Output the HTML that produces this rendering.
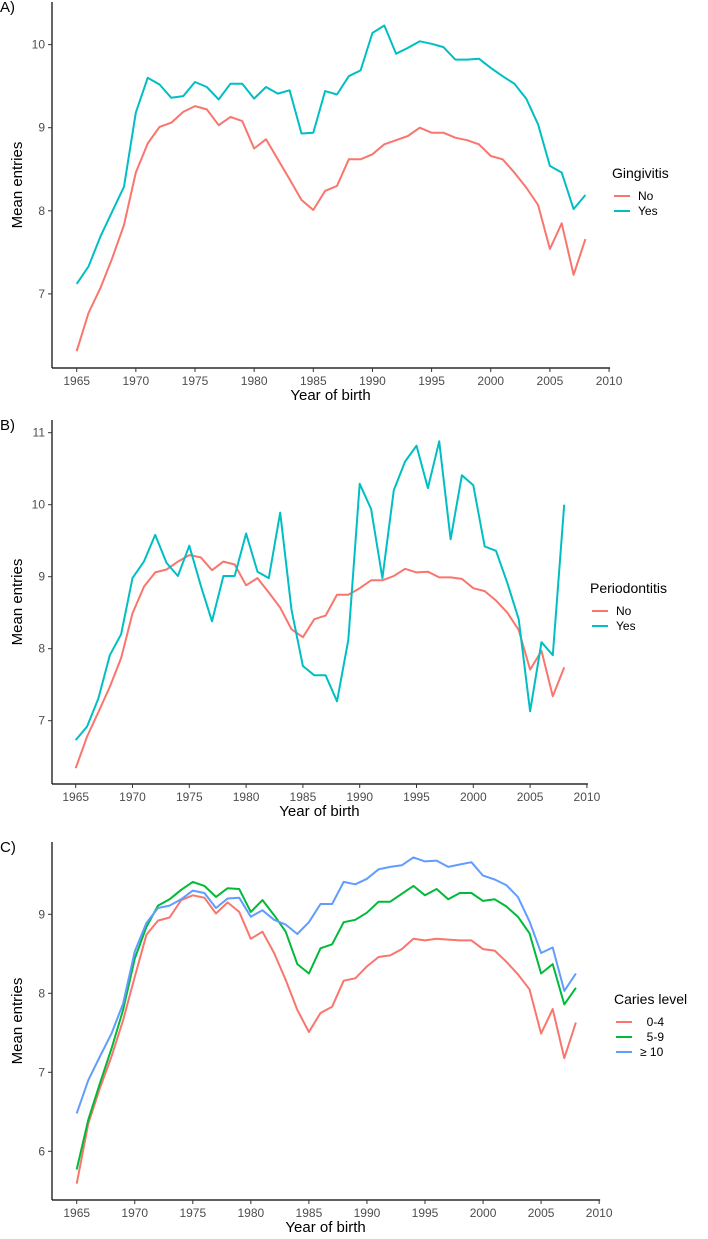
<!DOCTYPE html>
<html><head><meta charset="utf-8"><style>
body{margin:0;background:#fff;}
svg{display:block;font-family:"Liberation Sans",Arial,sans-serif;}
text{white-space:pre;}
</style></head><body>
<svg id="chart" width="708" height="1239" viewBox="0 0 708 1239" xmlns="http://www.w3.org/2000/svg"></svg>
<script>
const years = [];
for (let y = 1965; y <= 2008; y++) years.push(y);
const xTicks = [1965,1970,1975,1980,1985,1990,1995,2000,2005,2010];

const gingNo = [6.31,6.77,7.07,7.43,7.83,8.46,8.81,9.01,9.06,9.19,9.26,9.22,9.03,9.13,9.08,8.75,8.86,8.62,8.38,8.13,8.01,8.24,8.30,8.62,8.62,8.68,8.80,8.85,8.90,9.00,8.94,8.94,8.88,8.85,8.80,8.66,8.62,8.46,8.28,8.07,7.54,7.85,7.23,7.66];
const gingYes = [7.12,7.33,7.69,7.99,8.29,9.18,9.60,9.52,9.36,9.38,9.55,9.49,9.34,9.53,9.53,9.35,9.49,9.41,9.45,8.93,8.94,9.44,9.40,9.62,9.69,10.14,10.23,9.89,9.96,10.04,10.01,9.97,9.82,9.82,9.83,9.72,9.62,9.53,9.35,9.04,8.54,8.46,8.02,8.19];
const perioNo = [6.34,6.78,7.12,7.47,7.87,8.49,8.86,9.06,9.10,9.21,9.30,9.27,9.09,9.21,9.17,8.88,8.98,8.78,8.57,8.27,8.16,8.41,8.46,8.75,8.75,8.84,8.95,8.95,9.01,9.11,9.06,9.07,8.99,8.99,8.97,8.84,8.80,8.67,8.50,8.26,7.71,7.97,7.34,7.74];
const perioYes = [6.73,6.92,7.31,7.91,8.20,8.98,9.21,9.58,9.19,9.01,9.43,8.88,8.38,9.01,9.01,9.60,9.07,8.98,9.89,8.54,7.76,7.63,7.63,7.27,8.12,10.29,9.94,8.98,10.20,10.60,10.82,10.23,10.88,9.52,10.41,10.27,9.42,9.36,8.91,8.41,7.13,8.09,7.91,10.00];
const caries04 = [5.59,6.35,6.80,7.20,7.66,8.21,8.74,8.92,8.96,9.18,9.24,9.21,9.01,9.15,9.03,8.69,8.78,8.51,8.17,7.79,7.51,7.75,7.83,8.16,8.19,8.34,8.46,8.48,8.56,8.69,8.67,8.69,8.68,8.67,8.67,8.56,8.54,8.40,8.24,8.05,7.49,7.80,7.18,7.63];
const caries59 = [5.77,6.40,6.86,7.30,7.79,8.44,8.84,9.11,9.19,9.31,9.41,9.36,9.22,9.33,9.32,9.03,9.18,8.99,8.78,8.37,8.25,8.57,8.62,8.90,8.93,9.02,9.16,9.16,9.26,9.36,9.24,9.32,9.19,9.27,9.27,9.17,9.19,9.10,8.97,8.76,8.25,8.37,7.86,8.07];
const caries10 = [6.48,6.90,7.20,7.49,7.87,8.53,8.89,9.08,9.11,9.19,9.30,9.27,9.08,9.20,9.21,8.97,9.05,8.93,8.87,8.75,8.90,9.13,9.13,9.41,9.38,9.45,9.57,9.60,9.62,9.72,9.67,9.68,9.60,9.63,9.66,9.49,9.44,9.37,9.22,8.91,8.51,8.58,8.03,8.25];

const yTicksA = [7,8,9,10];
const yTicksB = [7,8,9,10,11];
const yTicksC = [6,7,8,9];

const NS = "http://www.w3.org/2000/svg";
const svg = document.getElementById('chart');
function mk(tag, attrs, parent){
  const e = document.createElementNS(NS, tag);
  for (const k in attrs) e.setAttribute(k, attrs[k]);
  (parent||svg).appendChild(e);
  return e;
}

function panel(cfg){
  const g = mk('g', {});
  
  
  const x = v => cfg.x0 + (v - 1965) * cfg.xs;
  const y = v => cfg.yRef - (v - cfg.vRef) * cfg.ys;
  const pl = mk('text', {x:0, y:cfg.top+10, 'font-size':15, fill:'#000'}, g);
  pl.textContent = cfg.label;
  
  
  const ya = mk('line', {x1:cfg.axX, y1:cfg.top, x2:cfg.axX, y2:cfg.axY, stroke:'#000', 'stroke-width':1.2}, g);
  
  
  const xa = mk('line', {x1:cfg.axX, y1:cfg.axY, x2:x(2010)+1, y2:cfg.axY, stroke:'#000', 'stroke-width':1.2}, g);
  
  
  cfg.yTicks.forEach(t => {
    const yy = y(t);
    const tl = mk('line', {x1:cfg.axX-4, y1:yy, x2:cfg.axX, y2:yy, stroke:'#333'}, g);
    
    
    const tx = mk('text', {x:cfg.axX-7, y:yy+4, 'font-size':12, fill:'#4d4d4d', 'text-anchor':'end'}, g);
    tx.textContent = t;
    
    
  });
  xTicks.forEach(t => {
    const xx = x(t);
    const tl = mk('line', {x1:xx, y1:cfg.axY, x2:xx, y2:cfg.axY+4, stroke:'#333'}, g);
    
    
    const tx = mk('text', {x:xx, y:cfg.axY+17, 'font-size':12, fill:'#4d4d4d', 'text-anchor':'middle'}, g);
    tx.textContent = t;
    
    
  });
  const xt = mk('text', {x:(cfg.axX + x(2010))/2, y:cfg.axY+32, 'font-size':15, fill:'#000', 'text-anchor':'middle'}, g);
  xt.textContent = 'Year of birth';
  
  
  const ymid = (cfg.top + cfg.axY)/2;
  const yt = mk('text', {x:0, y:0, 'font-size':15, fill:'#000', 'text-anchor':'middle', transform:`translate(22,${ymid}) rotate(-90)`}, g);
  yt.textContent = 'Mean entries';
  
  
  cfg.series.forEach(s => {
    const d = s.vals.map((v,i) => (i?'L':'M') + x(years[i]).toFixed(1) + ',' + y(v).toFixed(1)).join(' ');
    const p = mk('path', {d, fill:'none', stroke:s.color, 'stroke-width':2, 'stroke-linejoin':'round'}, g);
    
    
  });
  const lg = mk('g', {}, g);
  
  
  const lt = mk('text', {x:cfg.legX, y:cfg.legY, 'font-size':14, fill:'#000'}, lg);
  lt.textContent = cfg.legTitle;
  
  
  cfg.series.forEach((s,i) => {
    const ly = cfg.legY + 18 + i*15;
    const ll = mk('line', {x1:cfg.legX+2, y1:ly, x2:cfg.legX+18, y2:ly, stroke:s.color, 'stroke-width':2}, lg);
    
    
    const ltx = mk('text', {x:cfg.legX+26, y:ly+4, 'font-size':12, fill:'#000'}, lg);
    ltx.textContent = s.label;
    
    
  });
}

panel({name:'panel-a-gingivitis', label:'A)', top:2, axX:52, axY:368, x0:76.7, xs:11.83, yRef:127.7, vRef:9, ys:83.1,
  yTicks:yTicksA, legX:612, legY:178, legTitle:'Gingivitis',
  series:[{key:'line-gingivitis-no', vals:gingNo, color:'#f8766d', label:'No'},
          {key:'line-gingivitis-yes', vals:gingYes, color:'#00bfc4', label:'Yes'}]});
panel({name:'panel-b-periodontitis', label:'B)', top:420, axX:52, axY:784, x0:75.7, xs:11.36, yRef:576.7, vRef:9, ys:72,
  yTicks:yTicksB, legX:590, legY:593, legTitle:'Periodontitis',
  series:[{key:'line-periodontitis-no', vals:perioNo, color:'#f8766d', label:'No'},
          {key:'line-periodontitis-yes', vals:perioYes, color:'#00bfc4', label:'Yes'}]});
panel({name:'panel-c-caries', label:'C)', top:842, axX:52, axY:1200, x0:76.7, xs:11.61, yRef:914.3, vRef:9, ys:79,
  yTicks:yTicksC, legX:614, legY:1004, legTitle:'Caries level',
  series:[{key:'line-caries-0-4', vals:caries04, color:'#f8766d', label:'  0-4'},
          {key:'line-caries-5-9', vals:caries59, color:'#00ba38', label:'  5-9'},
          {key:'line-caries-10-plus', vals:caries10, color:'#619cff', label:'≥ 10'}]});
</script>
</body></html>
